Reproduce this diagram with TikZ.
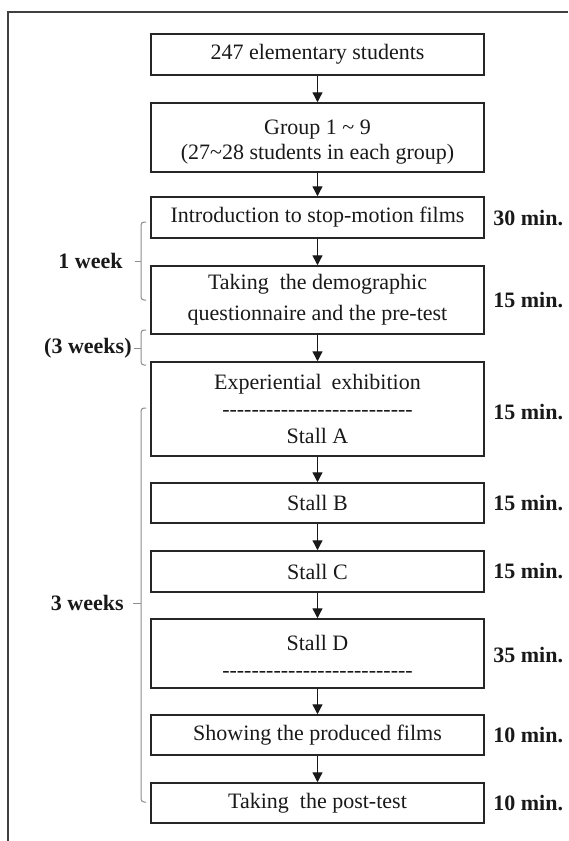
\documentclass[tikz,border=0pt]{standalone}
\usepackage{fontspec}
\setmainfont{Liberation Serif}
\usetikzlibrary{arrows.meta}
\newcommand\hyrow{\foreach\i in {1,...,26}{-\kern0pt}}
\begin{document}
\begin{tikzpicture}[x=0.5pt,y=-0.5pt,
  box/.style={draw=black!85, line width=0.75pt, minimum width=166.5pt, inner sep=0pt,
    align=center, font=\fontsize{11}{12.5}\selectfont, text=black!90},
  flow/.style={-{Triangle[length=5pt,width=5pt]}, line width=0.65pt, draw=black!90},
  dur/.style={anchor=west, font=\fontsize{11}{13}\selectfont\bfseries, inner sep=0pt, text=black!90},
  span/.style={anchor=east, font=\fontsize{11}{13}\selectfont\bfseries, inner sep=0pt, text=black!90},
  brk/.style={draw=black!45, line width=0.5pt, rounded corners=1.5pt},
  frame/.style={draw=black!75, line width=0.6pt}]
\useasboundingbox (0,0) rectangle (568,841);
\draw[frame] (568,12) -- (8,12) -- (8,841);

% boxes
\node[box, minimum height=20.5pt] (b1) at (317.5,54.5) {247 elementary students};
\node[box, minimum height=34.5pt] (b2) at (317.5,137.5) {\rule{0pt}{11.5pt}Group 1 \textasciitilde{} 9\\(27\textasciitilde 28 students in each group)};
\node[box, minimum height=20.5pt] (b3) at (317.5,217.5) {Introduction to stop-motion films};
\node[box, minimum height=34pt, font=\fontsize{11}{15.5}\selectfont] (b4) at (317.5,300) {Taking\hspace{0.25em} the demographic\\questionnaire and the pre-test};
\node[box, minimum height=47pt, font=\fontsize{11}{13.5}\selectfont] (b5) at (317.5,409) {Experiential\hspace{0.2em} exhibition\\\hyrow\\Stall A};
\node[box, minimum height=20pt] (b6) at (317.5,503) {Stall B};
\node[box, minimum height=20.5pt] (b7) at (317.5,571.5) {Stall C};
\node[box, minimum height=34.5pt, font=\fontsize{11}{13.5}\selectfont] (b8) at (317.5,653.5) {\rule{0pt}{10pt}Stall D\\\hyrow};
\node[box, minimum height=20pt] (b9) at (317.5,735) {Showing the produced films};
\node[box, minimum height=20pt] (b10) at (317.5,803) {Taking\hspace{0.25em} the post-test};

% arrows
\foreach \a/\b in {b1/b2,b2/b3,b3/b4,b4/b5,b5/b6,b6/b7,b7/b8,b8/b9,b9/b10}
  \draw[flow] (\a) -- (\b);

% durations
\node[dur] (d3) at (493,218) {30 min.};
\node[dur] (d4) at (493,300) {15 min.};
\node[dur] (d5) at (493,412) {15 min.};
\node[dur] (d6) at (493,503) {15 min.};
\node[dur] (d7) at (493,571) {15 min.};
\node[dur] (d8) at (493,655) {35 min.};
\node[dur] (d9) at (493,735) {10 min.};
\node[dur] (d10) at (493,803) {10 min.};

% spans
\node[span] (w1) at (123,261) {1 week};
\node[span] (w3a) at (132,348) {(3 weeks)};
\node[span] (w3) at (124,603) {3 weeks};

\draw[brk] (146,222) -- (141,222) -- (141,300) -- (146,300);
\draw[brk] (141,261) -- (135,261);
\draw[brk] (146,330) -- (141,330) -- (141,365) -- (146,365);
\draw[brk] (141,348) -- (134,348);
\draw[brk] (146,408) -- (141,408) -- (141,802) -- (146,802);
\draw[brk] (141,603) -- (133,603);
\end{tikzpicture}
\end{document}
